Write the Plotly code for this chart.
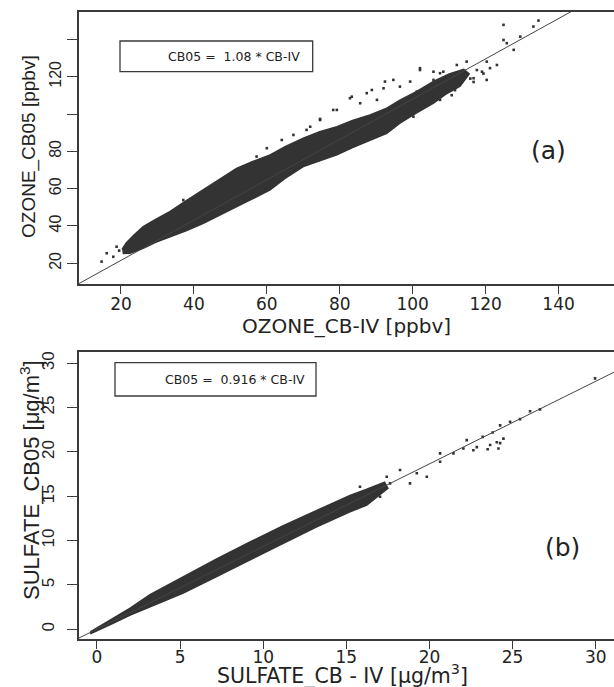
import plotly.graph_objects as go

# ---------------- Panel (a): OZONE ----------------
# outline of the dense point cloud
a_cloud_x = [20.3, 21.5, 23.5, 26.1, 29.5, 33.4, 37.5, 42.6, 47.0, 51.7, 56.0, 60.9, 65.0, 70.0,
             74.5, 79.2, 83.5, 88.3, 92.9, 96.5, 101.0, 105.7, 110.0, 114.0,
             115.5, 113.0, 109.0, 105.7, 100.5, 96.5, 92.9, 88.3, 83.5, 79.2, 74.5, 70.0,
             65.0, 60.9, 55.5, 51.7, 47.0, 42.6, 38.0, 33.4, 29.5, 26.1, 22.5, 20.5]
a_cloud_y = [27.5, 31.0, 35.0, 39.6, 43.5, 47.7, 53.0, 59.3, 65.0, 70.9, 74.5, 78.1, 82.5, 87.0,
             90.5, 93.2, 96.5, 99.5, 103.1, 107.5, 112.0, 117.5, 121.5, 124.0,
             121.5, 115.0, 110.5, 105.8, 100.0, 95.1, 89.7, 86.1, 82.0, 78.1, 75.0, 71.8,
             65.5, 59.3, 54.0, 50.3, 45.8, 41.4, 37.5, 34.3, 31.2, 28.0, 25.4, 25.2]
# scattered individual points outside the dense cloud
a_pts_x = [16.1, 14.7, 18.8, 17.9, 19.5, 37.1, 49.9, 57.2, 60.0, 64.1, 67.3, 70.9, 71.9, 74.6,
           74.6, 78.2, 79.2, 82.8, 83.3, 85.6, 87.4, 88.8, 90.2, 92.0, 92.4, 94.7, 96.5, 99.3,
           101.1, 102.0, 102.0, 105.7, 105.7, 107.5, 108.4, 109.4, 112.1, 113.0, 114.8, 116.7,
           117.6, 119.0, 120.3, 120.3, 121.2, 123.1, 124.9, 124.9, 125.8, 127.7, 129.5, 133.1,
           134.5, 77.3, 83.7, 87.4, 92.0, 100.2, 107.5, 110.7, 111.6, 113.0, 115.8, 116.7, 119.4]
a_pts_y = [25.4, 20.9, 28.9, 23.5, 26.8, 53.9, 67.3, 77.2, 81.7, 86.1, 88.8, 91.5, 93.2, 96.8,
           97.4, 102.2, 102.2, 108.5, 109.3, 105.8, 111.2, 112.9, 107.6, 113.8, 117.4, 118.3, 114.7, 117.4,
           112.0, 123.6, 124.6, 118.3, 122.7, 121.9, 122.7, 113.8, 126.3, 116.5, 128.1, 119.2,
           123.6, 122.7, 118.3, 128.1, 124.6, 126.3, 139.7, 147.8, 138.0, 134.4, 141.5, 146.9,
           150.1, 80.8, 87.9, 96.8, 93.2, 98.6, 107.6, 110.1, 112.8, 116.3, 119.0, 117.2, 121.7]
a_fit_x = [8.0, 150.0]
a_fit_y = [8.6, 162.0]
a_xticks = [20, 40, 60, 80, 100, 120, 140]
a_yticks = [20, 40, 60, 80, 120]
a_yticks_unlabeled = [100, 140]

# ---------------- Panel (b): SULFATE ----------------
b_cloud_x = [-0.4, 1.0, 2.0, 3.19, 5.19, 7.2, 9.21, 11.21, 13.22, 15.22, 16.23, 17.3,
             17.5, 16.23, 15.22, 13.22, 11.21, 9.21, 7.2, 5.19, 3.19, 2.0, 1.0, -0.4]
b_cloud_y = [-0.3, 1.3, 2.4, 3.9, 5.9, 7.95, 9.85, 11.7, 13.4, 15.1, 15.8, 16.6,
             15.9, 14.0, 13.25, 11.55, 9.7, 7.8, 5.95, 4.1, 2.55, 1.6, 0.7, -0.5]
b_pts_x = [29.96, 26.65, 26.05, 24.85, 24.25, 25.45, 24.45, 24.05, 24.15, 23.5, 23.2, 23.8,
           22.85, 22.04, 20.64, 20.64, 19.24, 18.23, 17.43, 17.63, 18.83, 19.84, 16.83,
           17.03, 15.82, 22.24, 21.44, 22.64, 23.65, 24.25]
b_pts_y = [28.3, 24.8, 24.6, 23.4, 23.0, 23.7, 21.5, 21.1, 20.4, 20.3, 21.7, 22.2,
           20.55, 20.4, 19.84, 18.9, 17.6, 17.96, 17.2, 16.46, 16.46, 17.2, 15.7,
           14.95, 16.08, 21.34, 19.84, 20.2, 20.78, 21.0]
b_fit_x = [-1.1, 31.1]
b_fit_y = [-1.0, 29.0]
b_xticks = [0, 5, 10, 15, 20, 25, 30]
b_yticks = [0, 5, 10, 15, 20, 25, 30]

W, H = 614, 687
def px(x):
    return x / W
def py(y):
    return 1 - y / H

CLOUD = "#333333"
AX = "#3a3a3a"
TXT = "#222222"

fig = go.Figure()
for xs, ys, cx, cy, fx, fy, xa, ya in [
    (a_pts_x, a_pts_y, a_cloud_x, a_cloud_y, a_fit_x, a_fit_y, "x", "y"),
    (b_pts_x, b_pts_y, b_cloud_x, b_cloud_y, b_fit_x, b_fit_y, "x2", "y2"),
]:
    fig.add_trace(go.Scatter(x=cx, y=cy, mode="lines", fill="toself", fillcolor=CLOUD,
                             line=dict(color=CLOUD, width=1.5), xaxis=xa, yaxis=ya,
                             hoverinfo="skip", showlegend=False))
    fig.add_trace(go.Scatter(x=xs, y=ys, mode="markers",
                             marker=dict(color=CLOUD, size=2.6, symbol="square", line=dict(width=0)),
                             xaxis=xa, yaxis=ya, showlegend=False))
    fig.add_trace(go.Scatter(x=fx, y=fy, mode="lines", line=dict(color="#444444", width=1),
                             xaxis=xa, yaxis=ya, showlegend=False, hoverinfo="skip"))

xdom = [79 / W, 1.0]
common_x = dict(showline=True, linecolor=AX, linewidth=1.5, mirror=True, ticks="outside",
                ticklen=8, tickwidth=1.3, tickcolor=AX, showgrid=False, zeroline=False,
                tickfont=dict(family="DejaVu Sans", size=17, color=TXT))
common_y = dict(showline=True, linecolor=AX, linewidth=1.5, mirror=False, ticks="outside",
                ticklen=10, tickwidth=1.3, tickcolor=AX, showgrid=False, zeroline=False,
                tickangle=-90,
                tickfont=dict(family="Liberation Sans", size=16, color=TXT))

fig.update_layout(
    width=W, height=H, margin=dict(l=0, r=0, t=0, b=0),
    paper_bgcolor="white", plot_bgcolor="white", showlegend=False,
    xaxis=dict(common_x, domain=xdom, range=[8.5, 155.2], anchor="y",
               tickvals=a_xticks, ticklabelstandoff=-4),
    yaxis=dict(common_y, domain=[py(284), py(12)], range=[8.9, 154.7], anchor="x",
               tickvals=a_yticks,
               minor=dict(tickmode="array", tickvals=a_yticks_unlabeled, ticks="outside",
                          ticklen=10, tickwidth=1.3, tickcolor=AX, showgrid=False)),
    xaxis2=dict(common_x, domain=xdom, range=[-1.08, 31.1], anchor="y2",
                tickvals=b_xticks, ticklabelstandoff=-6,
                tickfont=dict(family="DejaVu Sans", size=17, color=TXT)),
    yaxis2=dict(common_y, domain=[py(639), py(352.3)], range=[-1.09, 31.24], anchor="x2",
                tickvals=b_yticks, ticklabelstandoff=6,
                tickfont=dict(family="Liberation Sans", size=17, color=TXT)),
)

anns = [
    dict(text="OZONE_CB-IV [ppbv]", x=px(346), y=py(326),
         font=dict(family="DejaVu Sans", size=20, color=TXT), textangle=0),
    dict(text="OZONE_CB05 [ppbv]", x=px(29), y=py(147),
         font=dict(family="Liberation Sans", size=19, color=TXT), textangle=-90),
    dict(text="SULFATE_CB - IV [μg/m<sup>3</sup>]", x=px(342), y=py(675),
         font=dict(family="DejaVu Sans", size=20.5, color=TXT), textangle=0),
    dict(text="SULFATE_CB05 [μg/m<sup>3</sup>]", x=px(30), y=py(480),
         font=dict(family="Liberation Sans", size=22, color=TXT), textangle=-90),
    dict(text="(a)", x=px(548), y=py(150),
         font=dict(family="DejaVu Sans", size=25, color=TXT)),
    dict(text="(b)", x=px(562), y=py(547),
         font=dict(family="DejaVu Sans", size=25, color=TXT)),
    dict(text="CB05 =  1.08 * CB-IV", x=px(302), y=py(57), xanchor="right",
         font=dict(family="DejaVu Sans", size=12.5, color=TXT)),
    dict(text="CB05 =  0.916 * CB-IV", x=px(307), y=py(379.5), xanchor="right",
         font=dict(family="DejaVu Sans", size=12.5, color=TXT)),
]
for a in anns:
    a.setdefault("xanchor", "center")
    fig.add_annotation(xref="paper", yref="paper", showarrow=False, yanchor="middle", **a)

fig.add_shape(type="rect", xref="paper", yref="paper", x0=px(120), x1=px(312.7),
              y0=py(71.7), y1=py(41), line=dict(color=AX, width=1.3))
fig.add_shape(type="rect", xref="paper", yref="paper", x0=px(115), x1=px(316),
              y0=py(396), y1=py(362.7), line=dict(color=AX, width=1.3))

fig.write_html("out.html", config={"displayModeBar": False},
               post_script="document.body.style.margin='0';document.body.style.overflow='hidden';")
